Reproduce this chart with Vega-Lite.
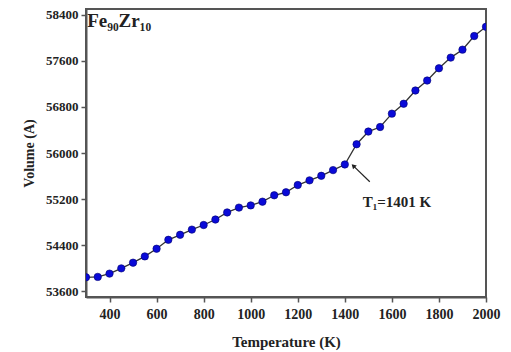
{
  "$schema": "https://vega.github.io/schema/vega-lite/v6.json",
  "autosize": {"type": "none"},
  "width": 400,
  "height": 288,
  "padding": {"left": 86, "top": 9, "right": 25, "bottom": 55},
  "background": "white",
  "config": {
    "view": {"stroke": "#555", "strokeWidth": 2},
    "axis": {
      "grid": false,
      "domainColor": "#555",
      "domainWidth": 2,
      "tickColor": "#555",
      "tickWidth": 1.5,
      "tickSize": 5,
      "labelFont": "Liberation Serif",
      "labelFontWeight": "bold",
      "labelColor": "#222",
      "labelOverlap": false,
      "labelFlush": false,
      "format": "d",
      "titleFont": "Liberation Serif",
      "titleFontWeight": "bold",
      "titleColor": "#222"
    }
  },
  "datasets": {
    "vol": [
      {"T": 300, "V": 53842}, {"T": 350, "V": 53849}, {"T": 400, "V": 53906},
      {"T": 450, "V": 53997}, {"T": 500, "V": 54096}, {"T": 550, "V": 54205},
      {"T": 600, "V": 54338}, {"T": 650, "V": 54493}, {"T": 700, "V": 54580},
      {"T": 750, "V": 54670}, {"T": 800, "V": 54750}, {"T": 850, "V": 54845},
      {"T": 900, "V": 54968}, {"T": 950, "V": 55052}, {"T": 1000, "V": 55090},
      {"T": 1050, "V": 55155}, {"T": 1100, "V": 55266}, {"T": 1150, "V": 55318},
      {"T": 1200, "V": 55444}, {"T": 1250, "V": 55525}, {"T": 1300, "V": 55604},
      {"T": 1350, "V": 55703}, {"T": 1400, "V": 55801}, {"T": 1450, "V": 56152},
      {"T": 1500, "V": 56372}, {"T": 1550, "V": 56451}, {"T": 1600, "V": 56683},
      {"T": 1650, "V": 56855}, {"T": 1700, "V": 57085}, {"T": 1750, "V": 57258},
      {"T": 1800, "V": 57471}, {"T": 1850, "V": 57656}, {"T": 1900, "V": 57794},
      {"T": 1950, "V": 58031}, {"T": 2000, "V": 58191}
    ],
    "arrow": [{"T": 1506, "V": 55501, "T2": 1433, "V2": 55790}],
    "head": [{"T": 1436, "V": 55778}],
    "labels": [
      {"T": 1476, "V": 55271, "txt": "T₁=1401 K", "size": 15},
      {"T": 305, "V": 58440, "txt": "Fe₉₀Zr₁₀", "size": 19}
    ]
  },
  "layer": [
    {
      "data": {"name": "vol"},
      "mark": {"type": "line", "color": "#333", "strokeWidth": 1.3, "clip": true},
      "encoding": {
        "x": {
          "field": "T", "type": "quantitative",
          "scale": {"domain": [300, 2000], "nice": false, "zero": false},
          "axis": {"values": [400, 600, 800, 1000, 1200, 1400, 1600, 1800, 2000], "labelFontSize": 14, "labelPadding": 5, "title": "Temperature (K)", "titleFontSize": 15, "titlePadding": 13}
        },
        "y": {
          "field": "V", "type": "quantitative",
          "scale": {"domain": [53500, 58500], "nice": false, "zero": false},
          "axis": {"values": [53600, 54400, 55200, 56000, 56800, 57600, 58400], "labelFontSize": 13, "labelPadding": 3, "title": "Volume (A)", "titleFontSize": 14, "titlePadding": 9}
        }
      }
    },
    {
      "data": {"name": "vol"},
      "mark": {"type": "point", "shape": "circle", "filled": true, "size": 55, "fill": "#0a0ad8", "stroke": "#000070", "strokeWidth": 0.6, "opacity": 1, "clip": true},
      "encoding": {
        "x": {"field": "T", "type": "quantitative"},
        "y": {"field": "V", "type": "quantitative"}
      }
    },
    {
      "data": {"name": "arrow"},
      "mark": {"type": "rule", "color": "#222", "strokeWidth": 1.2},
      "encoding": {
        "x": {"field": "T", "type": "quantitative"},
        "y": {"field": "V", "type": "quantitative"},
        "x2": {"field": "T2"},
        "y2": {"field": "V2"}
      }
    },
    {
      "data": {"name": "head"},
      "mark": {"type": "point", "shape": "triangle-up", "filled": true, "size": 28, "color": "#222", "angle": 315, "opacity": 1},
      "encoding": {
        "x": {"field": "T", "type": "quantitative"},
        "y": {"field": "V", "type": "quantitative"}
      }
    },
    {
      "data": {"name": "labels"},
      "mark": {"type": "text", "align": "left", "baseline": "top", "font": "Liberation Serif", "fontWeight": "bold", "color": "#222"},
      "encoding": {
        "x": {"field": "T", "type": "quantitative"},
        "y": {"field": "V", "type": "quantitative"},
        "text": {"field": "txt"},
        "size": {"field": "size", "type": "quantitative", "scale": null}
      }
    }
  ]
}
